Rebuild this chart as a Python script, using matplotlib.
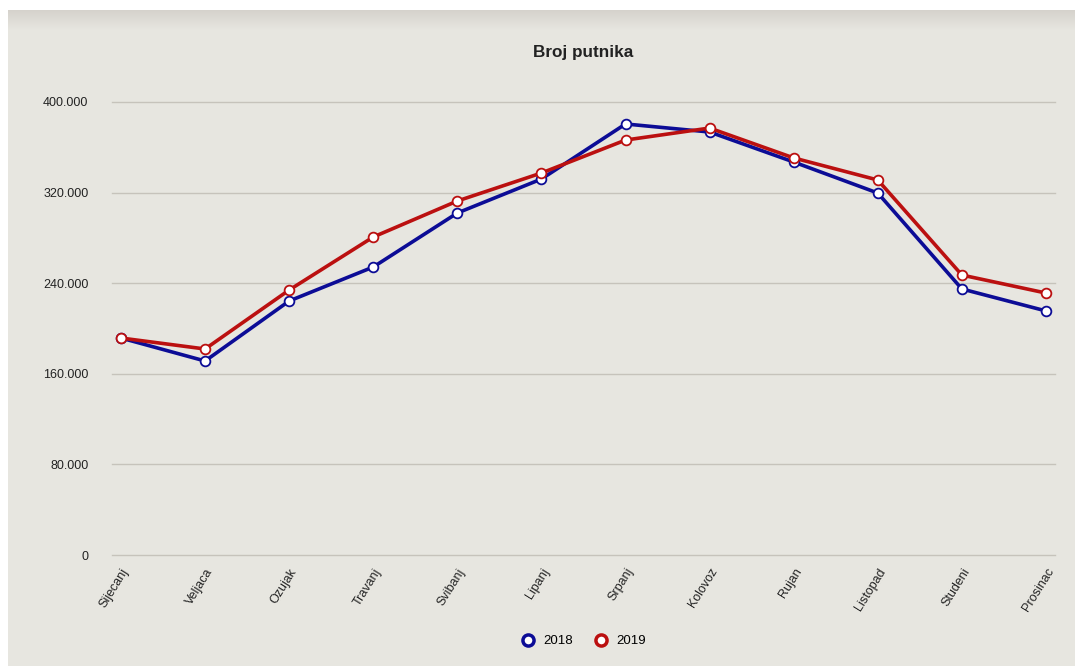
import numpy as np
import matplotlib
matplotlib.use("Agg")
import matplotlib.pyplot as plt
from matplotlib.patches import Rectangle
from matplotlib.ticker import FuncFormatter

months = ["Sijecanj", "Veljaca", "Ozujak", "Travanj", "Svibanj", "Lipanj",
          "Srpanj", "Kolovoz", "Rujan", "Listopad", "Studeni", "Prosinac"]
y2018 = [191600, 171300, 224300, 254300, 302000, 332000,
         380600, 373500, 347000, 319600, 234900, 215500]
y2019 = [191600, 181900, 234000, 280800, 312600, 337300,
         366400, 377000, 350600, 331100, 247200, 231300]
yticks = [0, 80000, 160000, 240000, 320000, 400000]

plt.rcParams['font.family'] = ['Liberation Sans', 'DejaVu Sans']

fig = plt.figure(figsize=(10.75, 6.66), dpi=100)
fig.patch.set_facecolor("white")
# panel background with a soft shadow at the top
fig.patches.append(Rectangle((8/1075, 0), 1, 656/666, transform=fig.transFigure,
                             facecolor="#e7e6e0", edgecolor="none", zorder=-10))
top = np.array([0.835, 0.822, 0.800])
bg = np.array([0.906, 0.902, 0.878])
for i in range(20):
    t = i / 20
    fig.patches.append(Rectangle((8/1075, (656 - i - 1)/666), 1, 1/666,
                                 transform=fig.transFigure,
                                 facecolor=tuple(top + (bg - top) * t),
                                 edgecolor="none", zorder=-9))

ax = fig.add_axes([112/1075, 111/666, 943/1075, 453/666])
ax.set_facecolor("none")
x = np.arange(len(months))

ax.plot(x, y2018, color="#0c0c96", lw=2.6, marker="o", ms=7,
        mfc="white", mec="#0c0c96", mew=1.3, label="2018", zorder=3)
ax.plot(x, y2019, color="#bb1010", lw=2.6, marker="o", ms=7,
        mfc="white", mec="#bb1010", mew=1.3, label="2019", zorder=4)

ax.set_xlim(-0.107, 11.107)
ax.set_ylim(0, 400000)
ax.set_yticks(yticks)
ax.yaxis.set_major_formatter(FuncFormatter(lambda v, p: "0" if v == 0 else f"{int(v):,}".replace(",", ".")))
ax.set_xticks(x)
ax.set_xticklabels(months, rotation=58, ha="right", rotation_mode="anchor")
ax.tick_params(axis="both", length=0, labelsize=9, colors="#222222")
ax.tick_params(axis="y", pad=17)
ax.tick_params(axis="x", pad=8)
ax.grid(axis="y", color="#c6c3bb", lw=1)
for gl in ax.get_ygridlines():
    gl.set_clip_on(False)
ax.set_axisbelow(True)
for s in ax.spines.values():
    s.set_visible(False)

fig.text(583/1075, 1 - 52/666, "Broj putnika", ha="center", va="center",
         fontsize=12.3, fontweight="bold", color="#222222")

handles = [plt.Line2D([], [], ls="none", marker="o", ms=8, mfc="white",
                      mec=c, mew=2.5) for c in ["#0c0c96", "#bb1010"]]
fig.legend(handles, ["2018", "2019"], loc="center", bbox_to_anchor=(583/1075, 1 - 641/666),
           ncol=2, frameon=False, fontsize=9.5, handletextpad=0.5, columnspacing=1.6,
           handlelength=1.2)

fig.savefig("out.png", dpi=100, facecolor=fig.get_facecolor())
